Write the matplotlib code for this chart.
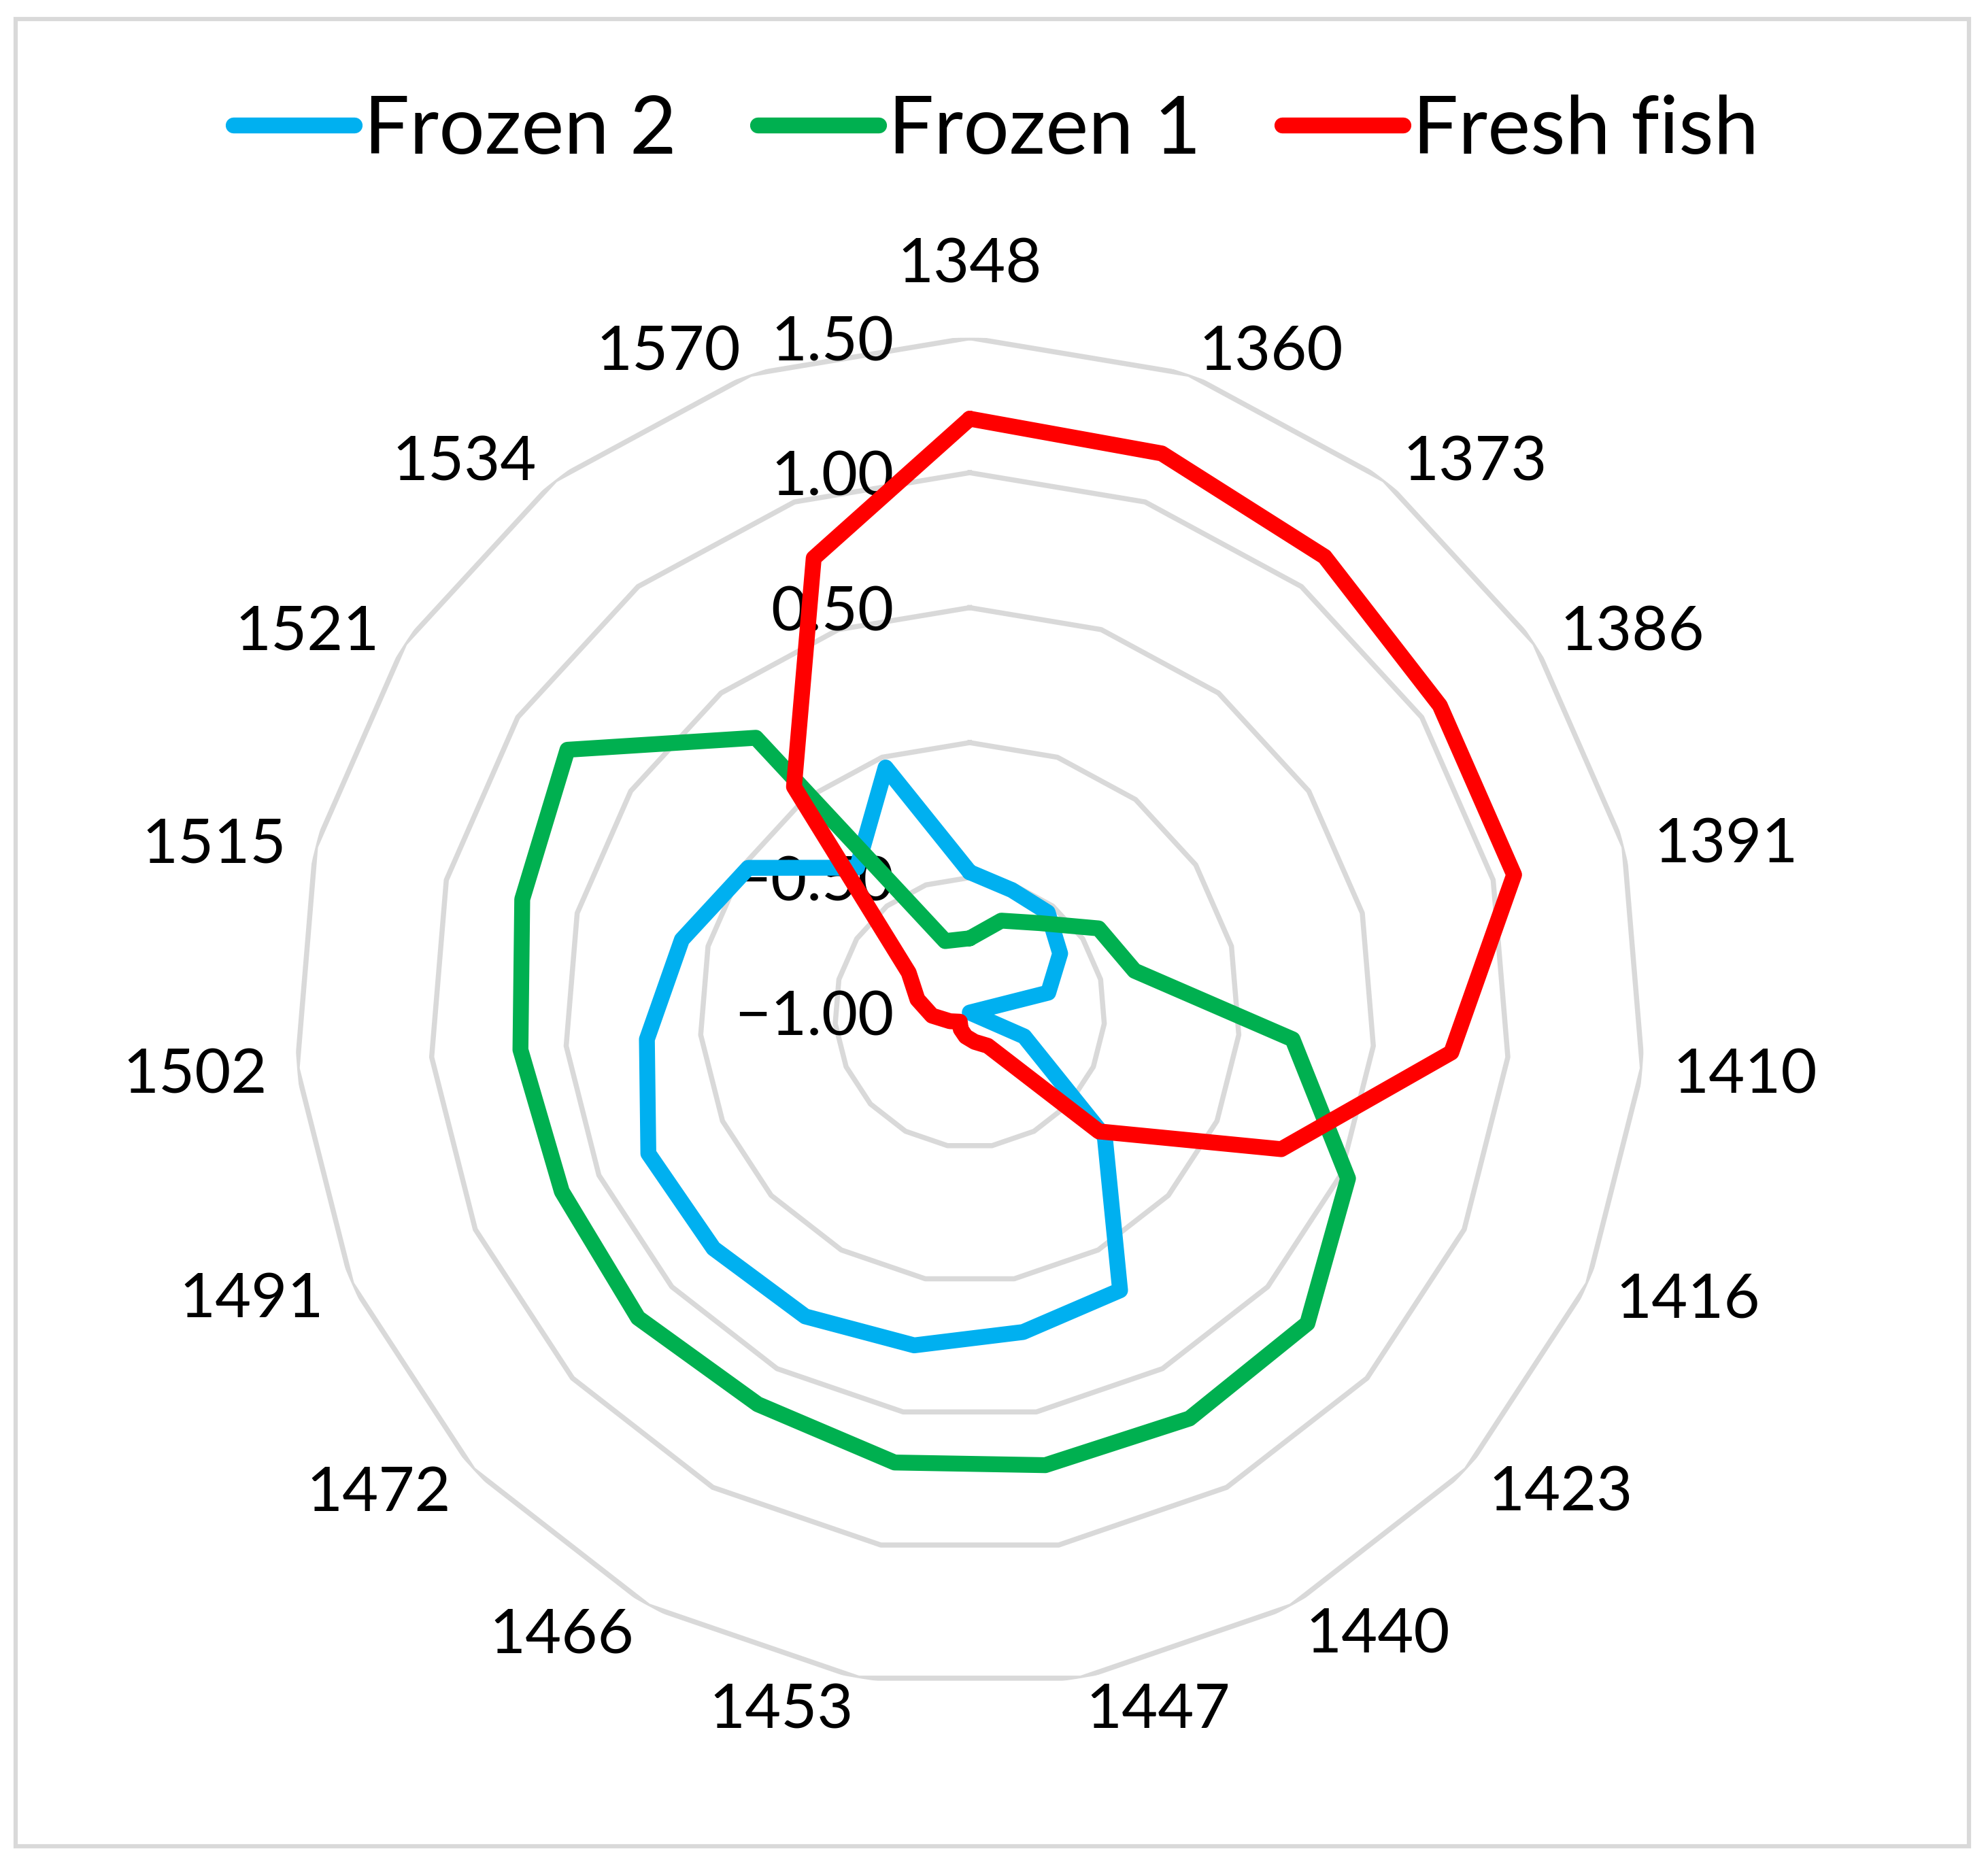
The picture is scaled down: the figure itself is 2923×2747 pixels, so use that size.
import numpy as np
import matplotlib.pyplot as plt

# category labels (clockwise from top)
categories = ['1348', '1360', '1373', '1386', '1391', '1410', '1416', '1423',
              '1440', '1447', '1453', '1466', '1472', '1491', '1502', '1515',
              '1521', '1534', '1570']

frozen2 = [-0.48, -0.52, -0.53, -0.60, -0.70, -1.00, -0.78, -0.32, 0.17, 0.20,
           0.25, 0.28, 0.29, 0.30, 0.20, 0.10, -0.02, -0.32, -0.04]
frozen1 = [-0.725, -0.64, -0.58, -0.43, -0.37, 0.20, 0.53, 0.70, 0.71, 0.70,
           0.69, 0.65, 0.67, 0.65, 0.67, 0.71, 0.78, 0.29, -0.72]
fresh = [1.20, 1.19, 1.14, 1.08, 1.08, 0.79, 0.26, -0.35, -0.86, -0.89,
         -0.91, -0.93, -0.95, -0.92, -0.86, -0.80, -0.73, 0.06, 0.78]

series_names = ['Frozen 2', 'Frozen 1', 'Fresh fish']
series_colors = ['#00B0F0', '#00B050', '#FF0000']

grid_levels = [-0.5, 0.0, 0.5, 1.0, 1.5]
# radial tick labels (0.00 is not shown in the original)
tick_values = [1.5, 1.0, 0.5, -0.5, -1.0]
tick_labels = ['1.50', '1.00', '0.50', '\u22120.50', '\u22121.00']
rmin, rmax = -1.0, 1.5

plt.rcParams['font.family'] = ['Lato', 'DejaVu Sans']

fig = plt.figure(figsize=(2923 / 300, 2747 / 300), dpi=300)
ax = fig.add_axes([0.1483, 0.0967, 0.679, 0.7225], projection='polar')
ax.set_theta_zero_location('N')
ax.set_theta_direction(-1)
ax.set_ylim(rmin, rmax)

n = len(categories)
theta = np.arange(n) * 2 * np.pi / n
theta_c = np.append(theta, theta[0])

# polygon gridlines
for lv in grid_levels:
    ax.plot(theta_c, [lv] * (n + 1), color='#D9D9D9', lw=1.8, zorder=1)

lines = []
for vals, col, name in zip([frozen2, frozen1, fresh], series_colors, series_names):
    ln, = ax.plot(theta_c, list(vals) + [vals[0]], color=col, lw=5.6,
                  solid_joinstyle='round', solid_capstyle='round',
                  zorder=4, label=name)
    lines.append(ln)

ax.axis('off')

# radial value labels along the top axis
for v, lab in zip(tick_values, tick_labels):
    ax.annotate(lab, xy=(0, v), xytext=(-26.8, -2.0), textcoords='offset points',
                ha='right', va='center', fontsize=22, zorder=3,
                annotation_clip=False)

# category labels outside outer ring
for t, cat in zip(theta, categories):
    s, c = np.sin(t), np.cos(t)
    if s > 0.05:
        ha = 'left'
    elif s < -0.05:
        ha = 'right'
    else:
        ha = 'center'
    dy = 27.3 if ha == 'center' else 9.8 * c
    ax.annotate(cat, xy=(t, rmax), xytext=(10.7 * s, dy - 1.8),
                textcoords='offset points', ha=ha, va='center',
                fontsize=22, annotation_clip=False)

fig.legend(handles=lines, loc='center', bbox_to_anchor=(0.501, 0.930),
           ncol=3, frameon=False, fontsize=28.5, handlelength=1.5,
           handletextpad=0.12, columnspacing=1.0)

fig.add_artist(plt.Rectangle((0.0077, 0.0115), 0.9827, 0.9783,
                             transform=fig.transFigure, fill=False,
                             edgecolor='#D9D9D9', lw=1.5))

fig.savefig('out.png', dpi=300, facecolor='white')
